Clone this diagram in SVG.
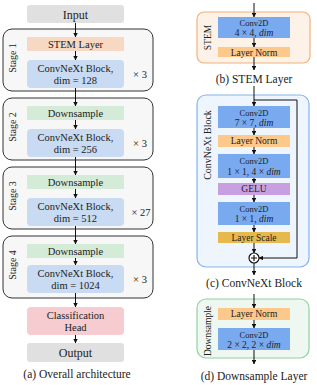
<svg xmlns="http://www.w3.org/2000/svg" width="317" height="385" viewBox="0 0 317 385">
<defs>
<marker id="ah" viewBox="0 0 6 6" refX="5.5" refY="3" markerWidth="4.5" markerHeight="4.5" orient="auto">
<path d="M0,0 L6,3 L0,6 z" fill="#111"/>
</marker>
</defs>
<style>
text{font-family:"Liberation Serif","Times New Roman",serif;fill:#222;text-anchor:middle}
.t{font-size:12px}
.s{font-size:10.5px}
.g{font-size:10px}
.r{font-size:9.5px}
.c{font-size:8.5px}
.cap{font-size:11.5px}
.stage{fill:#f7f7f7;stroke:#333;stroke-width:1}
.gray{fill:#e0e0e0}
.stem{fill:#f7d8c3}
.ds{fill:#d4ebd8}
.blk{fill:#c8dbf2}
.head{fill:#f6ccd0}
.bl{fill:#79aaf0}
.ln{fill:#fdc98b}
.gelu{fill:#c8a0e2}
.ls{fill:#e6b94c}
.conn line,.conn path{stroke:#111;stroke-width:1;fill:none}
</style>

<g id="input"><rect class="gray" x="27" y="5" width="97" height="18" rx="3"/><text class="t" x="75.5" y="18.5">Input</text></g>

<g id="stage1">
<rect class="stage" x="3" y="29" width="150" height="62" rx="9"/>
<text class="g" transform="translate(15.5,58) rotate(-90)">Stage 1</text>
<rect class="stem" x="27" y="37" width="97" height="14"/><text class="s" x="75.5" y="47.8">STEM Layer</text>
<rect class="blk" x="27" y="60" width="97" height="28" rx="4"/><text class="s" x="75.5" y="71.5">ConvNeXt Block,</text><text class="s" x="75.5" y="83.5">dim = 128</text>
<text class="s" x="140" y="78">× 3</text>
</g>

<g id="stage2">
<rect class="stage" x="3" y="98" width="150" height="62" rx="9"/>
<text class="g" transform="translate(15.5,127) rotate(-90)">Stage 2</text>
<rect class="ds" x="27" y="106" width="97" height="14"/><text class="s" x="75.5" y="116.8">Downsample</text>
<rect class="blk" x="27" y="129" width="97" height="28" rx="4"/><text class="s" x="75.5" y="140.5">ConvNeXt Block,</text><text class="s" x="75.5" y="152.5">dim = 256</text>
<text class="s" x="140" y="147">× 3</text>
</g>

<g id="stage3">
<rect class="stage" x="3" y="167" width="150" height="62" rx="9"/>
<text class="g" transform="translate(15.5,196) rotate(-90)">Stage 3</text>
<rect class="ds" x="27" y="175" width="97" height="14"/><text class="s" x="75.5" y="185.8">Downsample</text>
<rect class="blk" x="27" y="198" width="97" height="28" rx="4"/><text class="s" x="75.5" y="209.5">ConvNeXt Block,</text><text class="s" x="75.5" y="221.5">dim = 512</text>
<text class="s" x="141" y="216">× 27</text>
</g>

<g id="stage4">
<rect class="stage" x="3" y="236" width="150" height="62" rx="9"/>
<text class="g" transform="translate(15.5,265) rotate(-90)">Stage 4</text>
<rect class="ds" x="27" y="244" width="97" height="14"/><text class="s" x="75.5" y="254.8">Downsample</text>
<rect class="blk" x="27" y="265" width="97" height="28" rx="4"/><text class="s" x="75.5" y="276.5">ConvNeXt Block,</text><text class="s" x="75.5" y="288.5">dim = 1024</text>
<text class="s" x="140" y="283">× 3</text>
</g>

<g id="head"><rect class="head" x="27" y="307" width="97" height="28" rx="4"/><text class="s" x="75.5" y="318.5">Classification</text><text class="s" x="75.5" y="330.5">Head</text></g>
<g id="output"><rect class="gray" x="27" y="343" width="97" height="19" rx="3"/><text class="t" x="75.5" y="357">Output</text></g>
<text class="cap" x="77" y="378">(a) Overall architecture</text>

<g id="stemLayer">
<rect x="197" y="12" width="113" height="51" rx="7" fill="#fdf2e8" stroke="#f2b27a" stroke-width="1.2"/>
<text class="r" transform="translate(210.5,37.5) rotate(-90)">STEM</text>
<rect class="bl" x="218" y="17" width="72" height="21"/>
<text class="c" x="254" y="26">Conv2D</text><text class="r" x="254" y="36">4 × 4, <tspan font-style="italic">dim</tspan></text>
<rect class="ln" x="218" y="47" width="72" height="10"/><text class="r" x="254" y="55.5">Layer Norm</text>
</g>
<text class="cap" x="254" y="83">(b) STEM Layer</text>

<g id="convnextBlock">
<rect x="197" y="95" width="112" height="172" rx="9" fill="#eef5fd" stroke="#86b3ea" stroke-width="1.2"/>
<text class="g" transform="translate(210.5,145) rotate(-90)">ConvNeXt Block</text>
<rect class="bl" x="218" y="106" width="72" height="22"/><text class="c" x="254" y="115.5">Conv2D</text><text class="r" x="254" y="125.5">7 × 7, <tspan font-style="italic">dim</tspan></text>
<rect class="ln" x="218" y="135" width="72" height="12"/><text class="r" x="254" y="144.3">Layer Norm</text>
<rect class="bl" x="218" y="154" width="72" height="24"/><text class="c" x="254" y="164">Conv2D</text><text class="r" x="254" y="175">1 × 1, 4 × <tspan font-style="italic">dim</tspan></text>
<rect class="gelu" x="218" y="183" width="72" height="12"/><text class="r" x="254" y="192.3">GELU</text>
<rect class="bl" x="218" y="202" width="72" height="23"/><text class="c" x="254" y="211.5">Conv2D</text><text class="r" x="254" y="222">1 × 1, <tspan font-style="italic">dim</tspan></text>
<rect class="ls" x="218" y="232" width="72" height="11"/><text class="r" x="254" y="241">Layer Scale</text>
<circle cx="254" cy="258" r="5" fill="#fff" stroke="#111" stroke-width="1.2"/>
<path d="M251,258 H257 M254,255 V261" stroke="#111" stroke-width="1.2"/>
</g>
<text class="cap" x="254" y="287">(c) ConvNeXt Block</text>

<g id="downsampleLayer">
<rect x="197" y="299" width="112" height="59" rx="9" fill="#eef8f0" stroke="#92d0a2" stroke-width="1.2"/>
<text class="r" transform="translate(210.5,331) rotate(-90)">Downsample</text>
<rect class="ln" x="218" y="308" width="72" height="12"/><text class="r" x="254" y="317.3">Layer Norm</text>
<rect class="bl" x="218" y="328" width="72" height="22"/><text class="c" x="254" y="337.5">Conv2D</text><text class="r" x="254" y="347.5">2 × 2, 2 × <tspan font-style="italic">dim</tspan></text>
</g>
<text class="cap" x="254" y="380">(d) Downsample Layer</text>

<g class="conn" id="connectors">
<line x1="75.5" y1="23" x2="75.5" y2="37" marker-end="url(#ah)"/>
<line x1="75.5" y1="51" x2="75.5" y2="60" marker-end="url(#ah)"/>
<line x1="75.5" y1="88" x2="75.5" y2="106" marker-end="url(#ah)"/>
<line x1="75.5" y1="120" x2="75.5" y2="129" marker-end="url(#ah)"/>
<line x1="75.5" y1="157" x2="75.5" y2="175" marker-end="url(#ah)"/>
<line x1="75.5" y1="189" x2="75.5" y2="198" marker-end="url(#ah)"/>
<line x1="75.5" y1="226" x2="75.5" y2="244" marker-end="url(#ah)"/>
<line x1="75.5" y1="258" x2="75.5" y2="265" marker-end="url(#ah)"/>
<line x1="75.5" y1="293" x2="75.5" y2="307" marker-end="url(#ah)"/>
<line x1="75.5" y1="335" x2="75.5" y2="343" marker-end="url(#ah)"/>
<line x1="254" y1="3" x2="254" y2="17" marker-end="url(#ah)"/>
<line x1="254" y1="38" x2="254" y2="47" marker-end="url(#ah)"/>
<line x1="254" y1="57" x2="254" y2="70" marker-end="url(#ah)"/>
<line x1="254" y1="86" x2="254" y2="106" marker-end="url(#ah)"/>
<path d="M254,100 H297 V258 H259" marker-end="url(#ah)"/>
<line x1="254" y1="128" x2="254" y2="135" marker-end="url(#ah)"/>
<line x1="254" y1="147" x2="254" y2="154" marker-end="url(#ah)"/>
<line x1="254" y1="178" x2="254" y2="183" marker-end="url(#ah)"/>
<line x1="254" y1="195" x2="254" y2="202" marker-end="url(#ah)"/>
<line x1="254" y1="225" x2="254" y2="232" marker-end="url(#ah)"/>
<line x1="254" y1="243" x2="254" y2="253" marker-end="url(#ah)"/>
<line x1="254" y1="263" x2="254" y2="275" marker-end="url(#ah)"/>
<line x1="254" y1="294" x2="254" y2="308" marker-end="url(#ah)"/>
<line x1="254" y1="320" x2="254" y2="328" marker-end="url(#ah)"/>
<line x1="254" y1="350" x2="254" y2="364" marker-end="url(#ah)"/>
</g>
</svg>
